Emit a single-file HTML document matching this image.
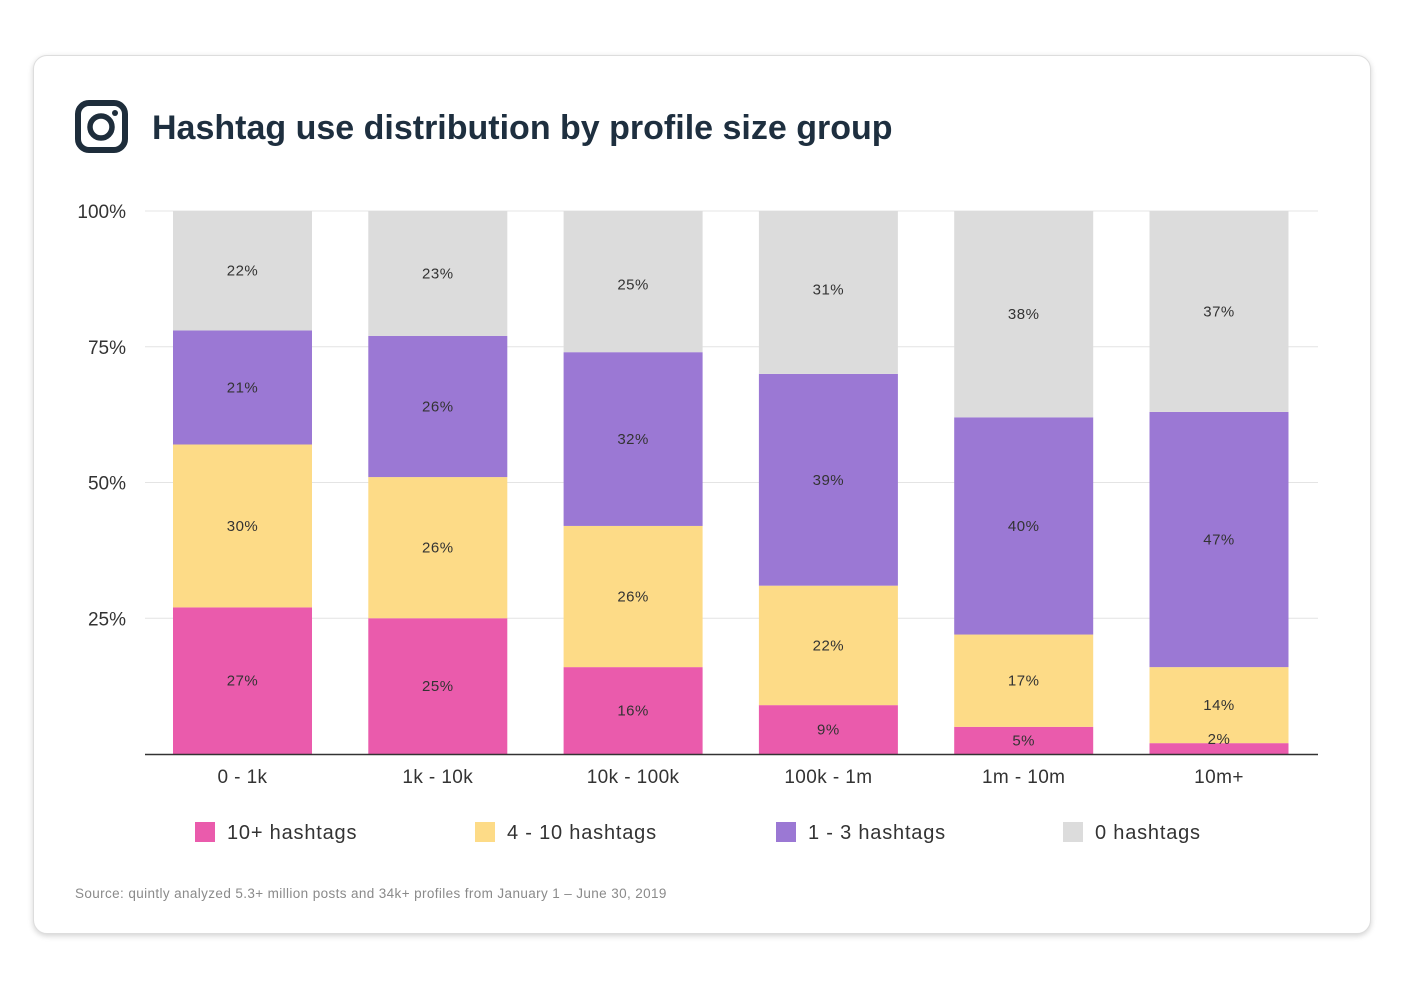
<!DOCTYPE html>
<html><head><meta charset="utf-8">
<style>
body{margin:0;background:#fff;width:1403px;height:992px;overflow:hidden;font-family:"Liberation Sans",sans-serif}
.card{position:absolute;left:33px;top:55px;width:1336px;height:877px;border:1px solid #ddd;border-radius:14px;box-shadow:0 2px 6px rgba(0,0,0,0.18);background:#fff}
</style></head><body>
<div class="card"></div>
<svg width="1403" height="992" style="position:absolute;left:0;top:0">
<g>
<rect x="78" y="103" width="47" height="47" rx="11" fill="none" stroke="#1e2d3b" stroke-width="6"/>
<circle cx="101" cy="127" r="11" fill="none" stroke="#1e2d3b" stroke-width="5.5"/>
<circle cx="115" cy="113" r="3" fill="#1e2d3b"/>
</g>
<text x="152" y="139" font-size="34" font-weight="bold" fill="#1e2f3f">Hashtag use distribution by profile size group</text>
<g id="plot"></g>
<text x="75" y="898" font-size="13.5" letter-spacing="0.38" fill="#8a8a8a">Source: quintly analyzed 5.3+ million posts and 34k+ profiles from January 1 – June 30, 2019</text>
</svg>
<script>
const categories=["0 - 1k","1k - 10k","10k - 100k","100k - 1m","1m - 10m","10m+"];
const s10plus=[27,25,16,9,5,2];
const s4to10=[30,26,26,22,17,14];
const s1to3=[21,26,32,39,40,47];
const s0=[22,23,25,31,38,37];
const yTicks=[0,25,50,75,100];
const seriesNames=["10+ hashtags","4 - 10 hashtags","1 - 3 hashtags","0 hashtags"];
const colors=["#ea5bac","#fddb87","#9b78d4","#dcdcdc"];
const NS="http://www.w3.org/2000/svg";
const g=document.getElementById('plot');
const y=v=>754-v*5.43;
const xc=i=>242.5+i*195.3;
function mk(t,a,p){const e=document.createElementNS(NS,t);for(const k in a)e.setAttribute(k,a[k]);(p||g).appendChild(e);return e;}
yTicks.forEach(v=>{
 if(v>0){const l=mk('line',{x1:145,x2:1318,y1:y(v),y2:y(v),stroke:'#e4e4e4','stroke-width':1});
 
 
 const t=mk('text',{x:126,y:y(v)+7,'font-size':19,fill:'#333','text-anchor':'end'});t.textContent=v+'%';
 
 }
});
const all=[s10plus,s4to10,s1to3,s0];
const labelQueue=[];
categories.forEach((c,i)=>{
 let cum=0;
 all.forEach((s,k)=>{
  const v=s[i];const top=(k==3)?100:Math.min(100,cum+v);
  const r=mk('rect',{x:xc(i)-69.5,width:139,y:y(top),height:Math.max(0,y(cum)-y(top)),fill:colors[k]});
  
  
  const ly=(k==0&&v<4)?y(cum+v)-4:(y(cum)+y(cum+v))/2;
  labelQueue.push([xc(i),ly,v]);
  cum+=v;
 });
 const t=mk('text',{x:xc(i),y:783,'font-size':19,'letter-spacing':0.4,fill:'#333','text-anchor':'middle'});
 t.textContent=c;
 
 
});
labelQueue.forEach(([x,ly,v])=>{
 const t=mk('text',{x:x,y:ly+5,'font-size':15,'letter-spacing':0.5,fill:'#333','text-anchor':'middle'});
 t.textContent=v+'%';
 
 
});
const ax=mk('line',{x1:145,x2:1318,y1:754.5,y2:754.5,stroke:'#333','stroke-width':1.5});


const lx=[195,475,776,1063];
seriesNames.forEach((n,k)=>{
 const r=mk('rect',{x:lx[k],y:822,width:20,height:20,fill:colors[k]});
 
 
 const t=mk('text',{x:lx[k]+32,y:839,'font-size':20,'letter-spacing':0.8,fill:'#333'});
 t.textContent=n;
 
 
});
</script>
</body></html>
